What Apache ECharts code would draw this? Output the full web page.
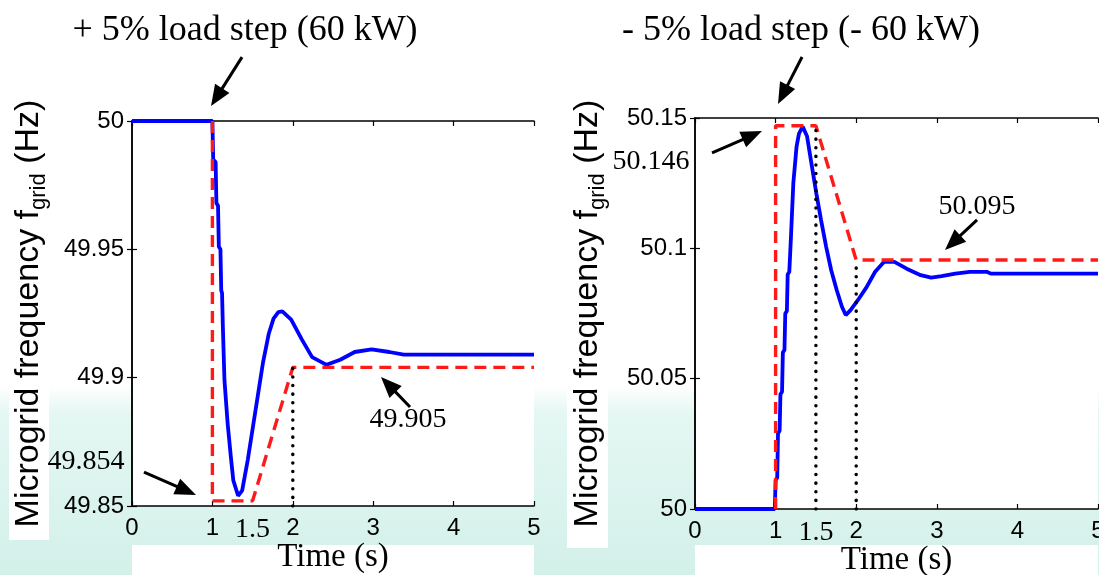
<!DOCTYPE html>
<html lang="en">
<head>
    <meta charset="UTF-8">
    <title>Microgrid frequency after load steps</title>
    <script src="https://cdn.jsdelivr.net/npm/echarts@6/dist/echarts.min.js"></script>
    <style>
        html, body { margin: 0; padding: 0; }
        #chart {
            width: 1099px; height: 575px;
            background: linear-gradient(to bottom, #ffffff 0%, #ffffff 67%, #e4f7f3 72%, #d3f0e9 100%);
        }
    </style>
</head>
<body>
<div id="chart"></div>

<script>
    // + 5 % load step: simulated frequency
    let upTime = [0, 1, 1.01, 1.04, 1.05, 1.07, 1.08, 1.10, 1.11, 1.12, 1.13, 1.15, 1.19, 1.23, 1.26, 1.32,
        1.37, 1.44, 1.50, 1.57, 1.63, 1.70, 1.76, 1.82, 1.87, 1.98, 2.11, 2.24, 2.42, 2.59, 2.77, 2.98,
        3.20, 3.38, 3.72, 5];
    let upFreq = [50, 50, 49.985, 49.984, 49.968, 49.967, 49.951, 49.950, 49.934, 49.933, 49.920, 49.899,
        49.882, 49.869, 49.860, 49.854, 49.856, 49.868, 49.880, 49.894, 49.906, 49.917, 49.923, 49.9255,
        49.9258, 49.9226, 49.915, 49.908, 49.905, 49.907, 49.910, 49.911, 49.910, 49.909, 49.909, 49.909];
    // + 5 % load step: bound
    let upBoundTime = [1, 1, 1.5, 2, 5];
    let upBoundFreq = [50, 49.852, 49.852, 49.904, 49.904];

    // - 5 % load step: simulated frequency
    let downTime = [0, 0.99, 1.0, 1.02, 1.03, 1.05, 1.06, 1.08, 1.09, 1.11, 1.12, 1.14, 1.15, 1.17, 1.19,
        1.22, 1.26, 1.29, 1.336, 1.39, 1.445, 1.506, 1.563, 1.628, 1.69, 1.758, 1.823, 1.87, 1.93, 2.018,
        2.127, 2.235, 2.344, 2.474, 2.626, 2.80, 2.93, 3.06, 3.23, 3.41, 3.62, 3.67, 5];
    let downFreq = [50, 50, 50.011, 50.012, 50.029, 50.030, 50.044, 50.045, 50.060, 50.061, 50.075, 50.076,
        50.090, 50.091, 50.104, 50.125, 50.139, 50.144, 50.1467, 50.143, 50.1325, 50.121, 50.111, 50.1005,
        50.0916, 50.084, 50.0776, 50.0744, 50.0763, 50.080, 50.085, 50.091, 50.0948, 50.0948, 50.0922,
        50.0897, 50.0888, 50.0893, 50.0903, 50.091, 50.091, 50.0903, 50.0903];
    // - 5 % load step: bound
    let downBoundTime = [1, 1, 1.5, 2, 5];
    let downBoundFreq = [50, 50.147, 50.147, 50.0955, 50.0955];

    // dotted guide lines [time, from, to]
    let upGuides = [[2, 49.85, 49.904]];
    let downGuides = [[1.5, 50, 50.147], [2, 50, 50.0955]];

    // axis ticks
    let timeTicks = [0, 1, 2, 3, 4, 5];
    let timeLabels = [0, 1, 1.5, 2, 3, 4, 5];
    let upRange = [49.85, 50];
    let downRange = [50, 50.15];
    let freqStep = 0.05;

    let titles = ['+ 5% load step (60 kW)', '- 5% load step (- 60 kW)'];

    // annotations: [grid, tail, tip] in data units
    let arrows = [
        [0, [1.368, 50.0249], [0.983, 50.0058]],
        [0, [0.149, 49.8632], [0.796, 49.8543]],
        [0, [3.458, 49.8886], [3.097, 49.9003]],
        [1, [1.328, 50.1734], [1.030, 50.1554]],
        [1, [0.211, 50.1366], [0.831, 50.1450]],
        [1, [3.499, 50.1109], [3.102, 50.0994]]
    ];
    let notes = [
        [0, '49.854', [-0.572, 49.8672]],
        [0, '49.905', [3.433, 49.8835]],
        [1, '50.146', [-0.546, 50.1331]],
        [1, '50.095', [3.499, 50.1159]]
    ];

    const sans = 'Liberation Sans, Arial, Helvetica, sans-serif';
    const serif = 'Liberation Serif, Times New Roman, serif';

    function zip(xs, ys) {
        return xs.map((x, i) => [x, ys[i]]);
    }

    function guideData(guides) {
        let out = [];
        guides.forEach(g => {
            out.push([g[0], g[1]], [g[0], g[2]], null);
        });
        return out;
    }

    function xAxes(grid) {
        let base = {
            gridIndex: grid, type: 'value', min: 0, max: 5, interval: 1,
            axisLine: { lineStyle: { color: '#000', width: 1.5 } },
            axisTick: { inside: true, length: 5, customValues: timeTicks, lineStyle: { color: '#000', width: 1.2 } },
            splitLine: { show: false }
        };
        return [
            Object.assign({}, base, {
                position: 'bottom',
                axisLabel: {
                    customValues: timeLabels, color: '#000', fontSize: 24, fontFamily: sans, margin: 10,
                    formatter: v => v === 1.5 ? '{s|1.5}' : String(v),
                    rich: { s: { fontFamily: serif, fontSize: 28, color: '#000' } }
                },
                name: 'Time (s)', nameLocation: 'middle', nameGap: 35, nameMoveOverlap: false,
                nameTextStyle: { fontFamily: serif, fontSize: 33, color: '#000' }
            }),
            Object.assign({}, base, { position: 'top', axisLabel: { show: false } })
        ];
    }

    function yAxes(grid, range, gap) {
        let base = {
            gridIndex: grid, type: 'value', min: range[0], max: range[1], interval: freqStep,
            axisLine: { lineStyle: { color: '#000', width: 1.5 } },
            axisTick: { inside: true, length: 5, lineStyle: { color: '#000', width: 1.2 } },
            splitLine: { show: false }
        };
        return [
            Object.assign({}, base, {
                position: 'left',
                axisLabel: { color: '#000', fontSize: 24, fontFamily: sans, margin: 8 },
                name: '{a|Microgrid frequency f}{b|grid}{a| (Hz)}',
                nameLocation: 'middle', nameRotate: 90, nameGap: gap, nameMoveOverlap: false,
                nameTextStyle: {
                    rich: {
                        a: { fontFamily: sans, fontSize: 34, lineHeight: 42, color: '#000' },
                        b: { fontFamily: sans, fontSize: 22, lineHeight: 23, verticalAlign: 'bottom', color: '#000' }
                    }
                }
            }),
            Object.assign({}, base, { position: 'right', axisLabel: { show: false } })
        ];
    }

    function seriesFor(grid, t, f, bt, bf, guides) {
        let ax = { xAxisIndex: grid * 2, yAxisIndex: grid * 2 };
        return [
            Object.assign({
                type: 'line', data: zip(t, f), showSymbol: false,
                lineStyle: { color: '#0000ff', width: 3.8 }, z: 3
            }, ax),
            Object.assign({
                type: 'line', data: zip(bt, bf), showSymbol: false,
                lineStyle: { color: '#ff1a1a', width: 3.4, type: [12, 7] }, z: 4
            }, ax),
            Object.assign({
                type: 'line', data: guideData(guides), showSymbol: false, connectNulls: false,
                lineStyle: { color: '#000', width: 3.5, type: [0.1, 8.5], cap: 'round' }, z: 5
            }, ax)
        ];
    }

    let chart = echarts.init(document.getElementById('chart'));

    let option = {
        backgroundColor: 'transparent',
        animation: false,
        title: [
            { text: titles[0], left: 240, top: 8, textAlign: 'center',
              textStyle: { fontFamily: serif, fontSize: 36, fontWeight: 'normal', color: '#000' } },
            { text: titles[1], left: 796, top: 8, textAlign: 'center',
              textStyle: { fontFamily: serif, fontSize: 36, fontWeight: 'normal', color: '#000' } }
        ],
        grid: [
            { left: 132, top: 121, width: 402, height: 385, show: true, backgroundColor: '#fff',
              borderWidth: 0, outerBoundsMode: 'none', containLabel: false },
            { left: 695, top: 118, width: 403, height: 391, show: true, backgroundColor: '#fff',
              borderWidth: 0, outerBoundsMode: 'none', containLabel: false }
        ],
        xAxis: xAxes(0).concat(xAxes(1)),
        yAxis: yAxes(0, upRange, 82).concat(yAxes(1, downRange, 86)),
        series: seriesFor(0, upTime, upFreq, upBoundTime, upBoundFreq, upGuides)
            .concat(seriesFor(1, downTime, downFreq, downBoundTime, downBoundFreq, downGuides))
    };
    chart.setOption(option);

    // decorations: white label backings, arrows and value notes
    let elements = [
        { type: 'rect', shape: { x: 9, y: 95, width: 40, height: 445 }, style: { fill: '#fff' }, z: -10 },
        { type: 'rect', shape: { x: 567, y: 95, width: 41, height: 453 }, style: { fill: '#fff' }, z: -10 },
        { type: 'rect', shape: { x: 132, y: 545, width: 402, height: 30 }, style: { fill: '#fff' }, z: -10 },
        { type: 'rect', shape: { x: 695, y: 545, width: 403, height: 30 }, style: { fill: '#fff' }, z: -10 }
    ];

    arrows.forEach(a => {
        let p0 = chart.convertToPixel({ gridIndex: a[0] }, a[1]);
        let p1 = chart.convertToPixel({ gridIndex: a[0] }, a[2]);
        let dx = p1[0] - p0[0], dy = p1[1] - p0[1];
        let len = Math.hypot(dx, dy);
        let ux = dx / len, uy = dy / len;
        let hl = 21, hw = 8.5;
        let bx = p1[0] - ux * hl, by = p1[1] - uy * hl;
        elements.push({
            type: 'line', z: 20,
            shape: { x1: p0[0], y1: p0[1], x2: bx + ux * 3, y2: by + uy * 3 },
            style: { stroke: '#000', lineWidth: 3 }
        });
        elements.push({
            type: 'polygon', z: 20,
            shape: { points: [p1, [bx - uy * hw, by + ux * hw], [bx + uy * hw, by - ux * hw]] },
            style: { fill: '#000' }
        });
    });

    notes.forEach(n => {
        let p = chart.convertToPixel({ gridIndex: n[0] }, n[2]);
        elements.push({
            type: 'text', z: 20, x: p[0], y: p[1],
            style: {
                text: n[1], font: '28px ' + serif, fill: '#000',
                align: 'center', verticalAlign: 'middle', textAlign: 'center', textVerticalAlign: 'middle'
            }
        });
    });

    chart.setOption({ graphic: { elements: elements } });
</script>
</body>
</html>
